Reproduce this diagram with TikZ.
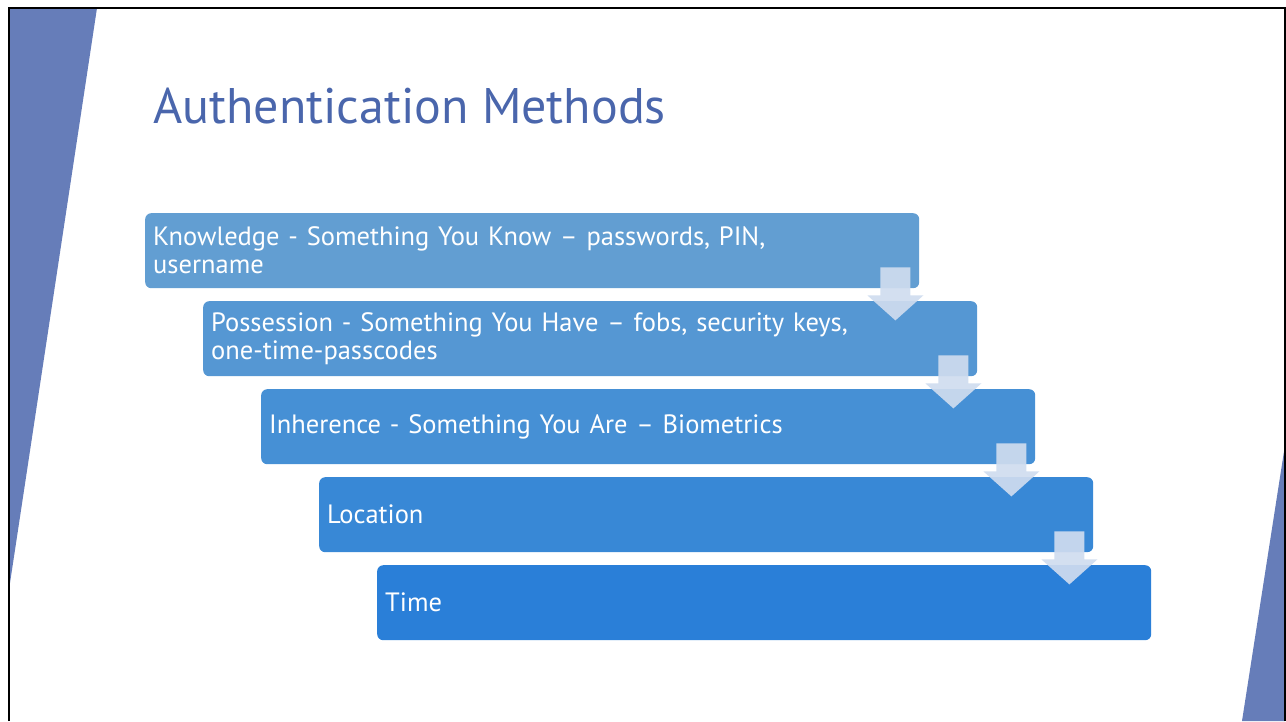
\documentclass[tikz,border=0pt]{standalone}
\usepackage{fontspec}
\setmainfont{PT Sans}
\usetikzlibrary{calc}
\definecolor{slideBlue}{HTML}{667DB9}
\definecolor{titleColor}{HTML}{4A66AC}
\definecolor{stepA}{HTML}{629ED2}
\definecolor{stepB}{HTML}{5597D3}
\definecolor{stepC}{HTML}{4690D5}
\definecolor{stepD}{HTML}{3888D6}
\definecolor{stepE}{HTML}{2A7FD8}
\definecolor{arrowColor}{HTML}{CFDCEF}
\tikzset{
  stepbox/.style={anchor=north west, rounded corners=6pt, text=white,
    minimum width=774pt, minimum height=75pt, text width=758pt,
    inner xsep=8pt, inner ysep=0pt, align=left,
    font=\fontsize{26.5}{28}\selectfont},
  downarrow/.style={fill=arrowColor, fill opacity=0.92}
}
\begin{document}
\begin{tikzpicture}[x=1pt,y=-1pt]
\useasboundingbox (0,0) rectangle (1286,721);
% slide decoration
\fill[slideBlue] (10,8) -- (97,8) -- (10,583) -- cycle;
\fill[slideBlue] (1285,445) -- (1285,721) -- (1242,721) -- cycle;
\draw[line width=2pt] (9,721) -- (9,8) -- (1285,8) -- (1285,721);

\node[anchor=base west, inner sep=0pt, text=titleColor,
      font=\fontsize{50}{54}\selectfont] (title) at (153,123) {Authentication Methods};

% steps
\node[stepbox, fill=stepA] (k1) at (145,213) {Knowledge - Something You Know – passwords, PIN,\\ username};
\node[stepbox, fill=stepB] (k2) at (203,301) {Possession - Something You Have – fobs, security keys,\\ one-time-passcodes};
\node[stepbox, fill=stepC] (k3) at (261,389) {Inherence - Something You Are – Biometrics};
\node[stepbox, fill=stepD] (k4) at (319,477) {Location};
\node[stepbox, fill=stepE] (k5) at (377,565) {Time};

% arrows between steps
\foreach \a in {1,...,4}{
  \fill[downarrow] ($(k\a.south east)+(-39,-21)$) -- ++(30,0) -- ++(0,28)
    -- ++(13,0) -- ++(-28,25) -- ++(-28,-25) -- ++(13,0) -- cycle;
}
\end{tikzpicture}
\end{document}
